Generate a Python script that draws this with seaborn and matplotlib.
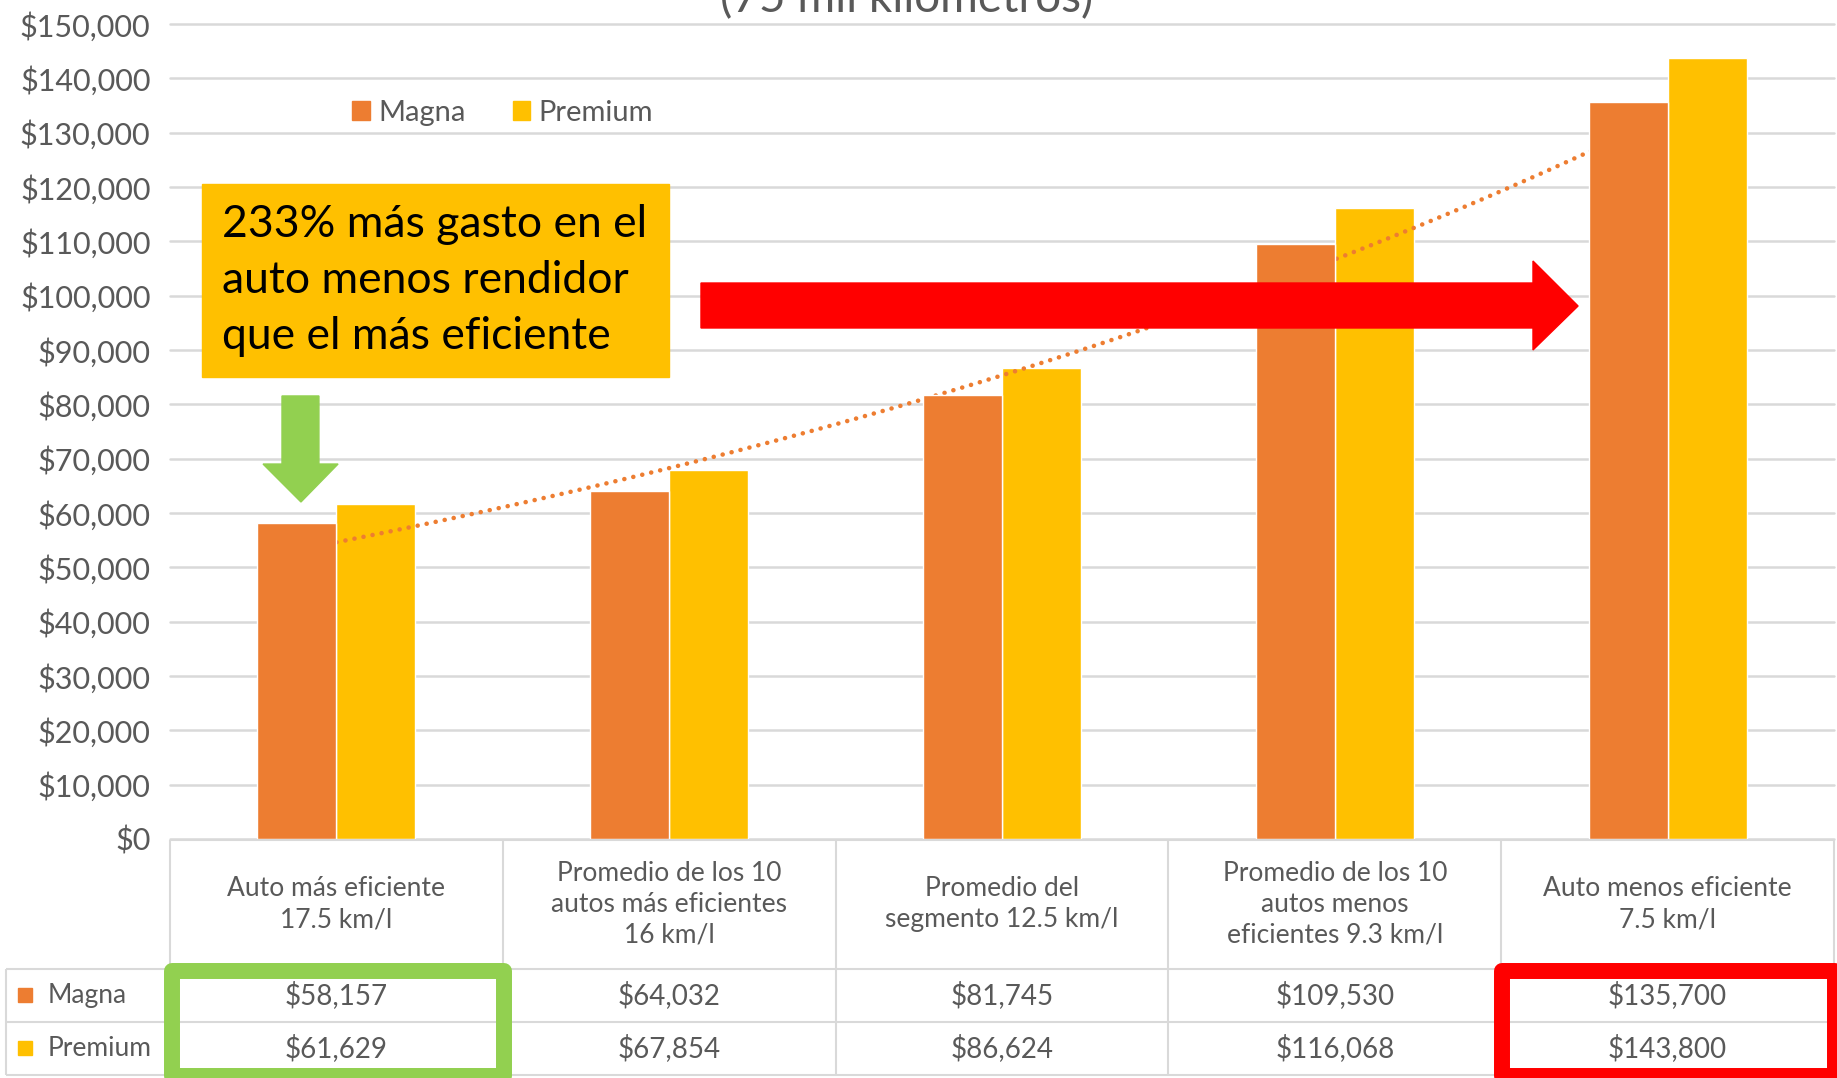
import numpy as np
import pandas as pd
import matplotlib
matplotlib.use("Agg")
import matplotlib.pyplot as plt
import seaborn as sns
from matplotlib.patches import Patch, Rectangle, Polygon
from matplotlib.ticker import StrMethodFormatter

# data
categorias = [
    "Auto más eficiente\n17.5 km/l",
    "Promedio de los 10\nautos más eficientes\n16 km/l",
    "Promedio del\nsegmento 12.5 km/l",
    "Promedio de los 10\nautos menos\neficientes 9.3 km/l",
    "Auto menos eficiente\n7.5 km/l",
]
series = ["Magna", "Premium"]
magna = [58157, 64032, 81745, 109530, 135700]
premium = [61629, 67854, 86624, 116068, 143800]
y_ticks = list(range(0, 150001, 10000))

titulo = "(75 mil kilómetros)"
nota = "233% más gasto en el\nauto menos rendidor\nque el más eficiente"

NARANJA = "#ED7D31"
AMARILLO = "#FFC000"
VERDE = "#92D050"
ROJO = "#FF0000"
GRIS = "#595959"
LINEA = "#D9D9D9"

sns.set_theme(style="white")
plt.rcParams["font.family"] = ["Lato", "DejaVu Sans"]

df = pd.DataFrame({
    "categoria": categorias * 2,
    "combustible": [series[0]] * len(magna) + [series[1]] * len(premium),
    "gasto": magna + premium,
})

W, H = 1837, 1078
fig = plt.figure(figsize=(W / 100, H / 100), dpi=100)
ax = fig.add_axes([170 / W, 1 - 839 / H, 1664 / W, 815 / H])
tab = fig.add_axes([170 / W, 0, 1664 / W, 1 - 839 / H])

sns.barplot(data=df, x="categoria", y="gasto", hue="combustible",
            order=categorias, hue_order=series,
            palette=[NARANJA, AMARILLO], width=0.475, saturation=1,
            errorbar=None, legend=False, ax=ax)

# magna bars sit over the trendline, premium bars under it
for bar in ax.containers[0]:
    bar.set_zorder(3)
for bar in ax.containers[1]:
    bar.set_zorder(1.5)

# exponential trendline on Magna (Excel style)
xi = np.arange(len(magna))
coef = np.polyfit(xi, np.log(magna), 1)
xs = np.linspace(xi[0], xi[-1], 80)
ax.plot(xs, np.exp(coef[1] + coef[0] * xs), color=NARANJA, lw=3.3,
        linestyle=(0, (0.01, 2.0)), dash_capstyle="round", zorder=2)

ax.set_xlim(-0.5, len(categorias) - 0.5)
ax.set_ylim(0, y_ticks[-1])
ax.set_yticks(y_ticks)
ax.yaxis.set_major_formatter(StrMethodFormatter("${x:,.0f}"))
ax.tick_params(axis="y", length=0, pad=14, labelsize=22, labelcolor=GRIS)
ax.set_xticks([])
ax.set_xlabel("")
ax.set_ylabel("")
ax.grid(axis="y", color=LINEA, lw=1.8)
for gl in ax.yaxis.get_gridlines():
    gl.set_clip_on(False)
ax.set_axisbelow(True)
for s in ax.spines.values():
    s.set_visible(False)

handles = [Patch(color=NARANJA, label=series[0]), Patch(color=AMARILLO, label=series[1])]
ax.legend(handles=handles, loc="center", bbox_to_anchor=(0.2, 0.891), ncol=2,
          frameon=False, fontsize=21, handlelength=0.6, handleheight=0.6,
          handletextpad=0.3, columnspacing=1.6, labelcolor=GRIS)

fig.text(907 / W, 1 - 12 / H, titulo, ha="center", va="baseline",
         fontsize=33, color=GRIS)

# yellow note box
ax.add_patch(Rectangle((0.0192, 0.5669), 0.2807, 0.2368, transform=ax.transAxes,
                       color=AMARILLO, zorder=5, clip_on=False))
ax.text(0.031, 0.6853, nota, transform=ax.transAxes, ha="left", va="center",
        fontsize=32, color="black", linespacing=1.45, zorder=6)

# green arrow
ax.add_patch(Polygon([(0.0673, 0.5436), (0.0895, 0.5436), (0.0895, 0.4601),
                      (0.1010, 0.4601), (0.0787, 0.4135), (0.0559, 0.4601),
                      (0.0673, 0.4601)], closed=True, transform=ax.transAxes,
                     color=VERDE, zorder=5))
# red arrow
ax.add_patch(Polygon([(0.3191, 0.6822), (0.8191, 0.6822), (0.8191, 0.7092),
                      (0.8462, 0.6540), (0.8191, 0.6000), (0.8191, 0.6270),
                      (0.3191, 0.6270)], closed=True, transform=ax.transAxes,
                     color=ROJO, zorder=5))

# data table under the chart
tab.set_xlim(-0.5, len(categorias) - 0.5)
tab.set_ylim(1, 0)
tab.axis("off")
y_top, y_head, y_mag, y_bot = 0.004, 0.542, 0.766, 0.987
x_lab = -0.993
tab.hlines(y_top, -0.5, 4.5, color=LINEA, lw=1.5, clip_on=False)
tab.hlines([y_head, y_mag, y_bot], x_lab, 4.5, color=LINEA, lw=1.5, clip_on=False)
tab.vlines(np.arange(-0.5, 4.6, 1), y_top, y_bot, color=LINEA, lw=1.5, clip_on=False)
tab.vlines(x_lab, y_head, y_bot, color=LINEA, lw=1.5, clip_on=False)

for i, cat in enumerate(categorias):
    tab.text(i, (y_top + y_head) / 2, cat, ha="center", va="center",
             fontsize=19, color=GRIS, linespacing=1.3)
    tab.text(i, (y_head + y_mag) / 2, f"${magna[i]:,}", ha="center", va="center",
             fontsize=20, color=GRIS)
    tab.text(i, (y_mag + y_bot) / 2, f"${premium[i]:,}", ha="center", va="center",
             fontsize=20, color=GRIS)

for yy, name, col in [((y_head + y_mag) / 2, series[0], NARANJA),
                      ((y_mag + y_bot) / 2, series[1], AMARILLO)]:
    tab.plot([-0.935], [yy], marker="s", ms=10, color=col, clip_on=False)
    tab.text(-0.869, yy, name, ha="left", va="center", fontsize=19, color=GRIS,
             clip_on=False)

# highlight boxes on the table
tab.add_patch(Rectangle((-0.4925, 0.552), 0.997, 0.44, fill=False,
                        edgecolor=VERDE, lw=11.5, joinstyle="round",
                        clip_on=False, zorder=4))
tab.add_patch(Rectangle((3.503, 0.552), 1.0, 0.44, fill=False,
                        edgecolor=ROJO, lw=11.5, joinstyle="round",
                        clip_on=False, zorder=4))

fig.savefig("out.png", dpi=100)
